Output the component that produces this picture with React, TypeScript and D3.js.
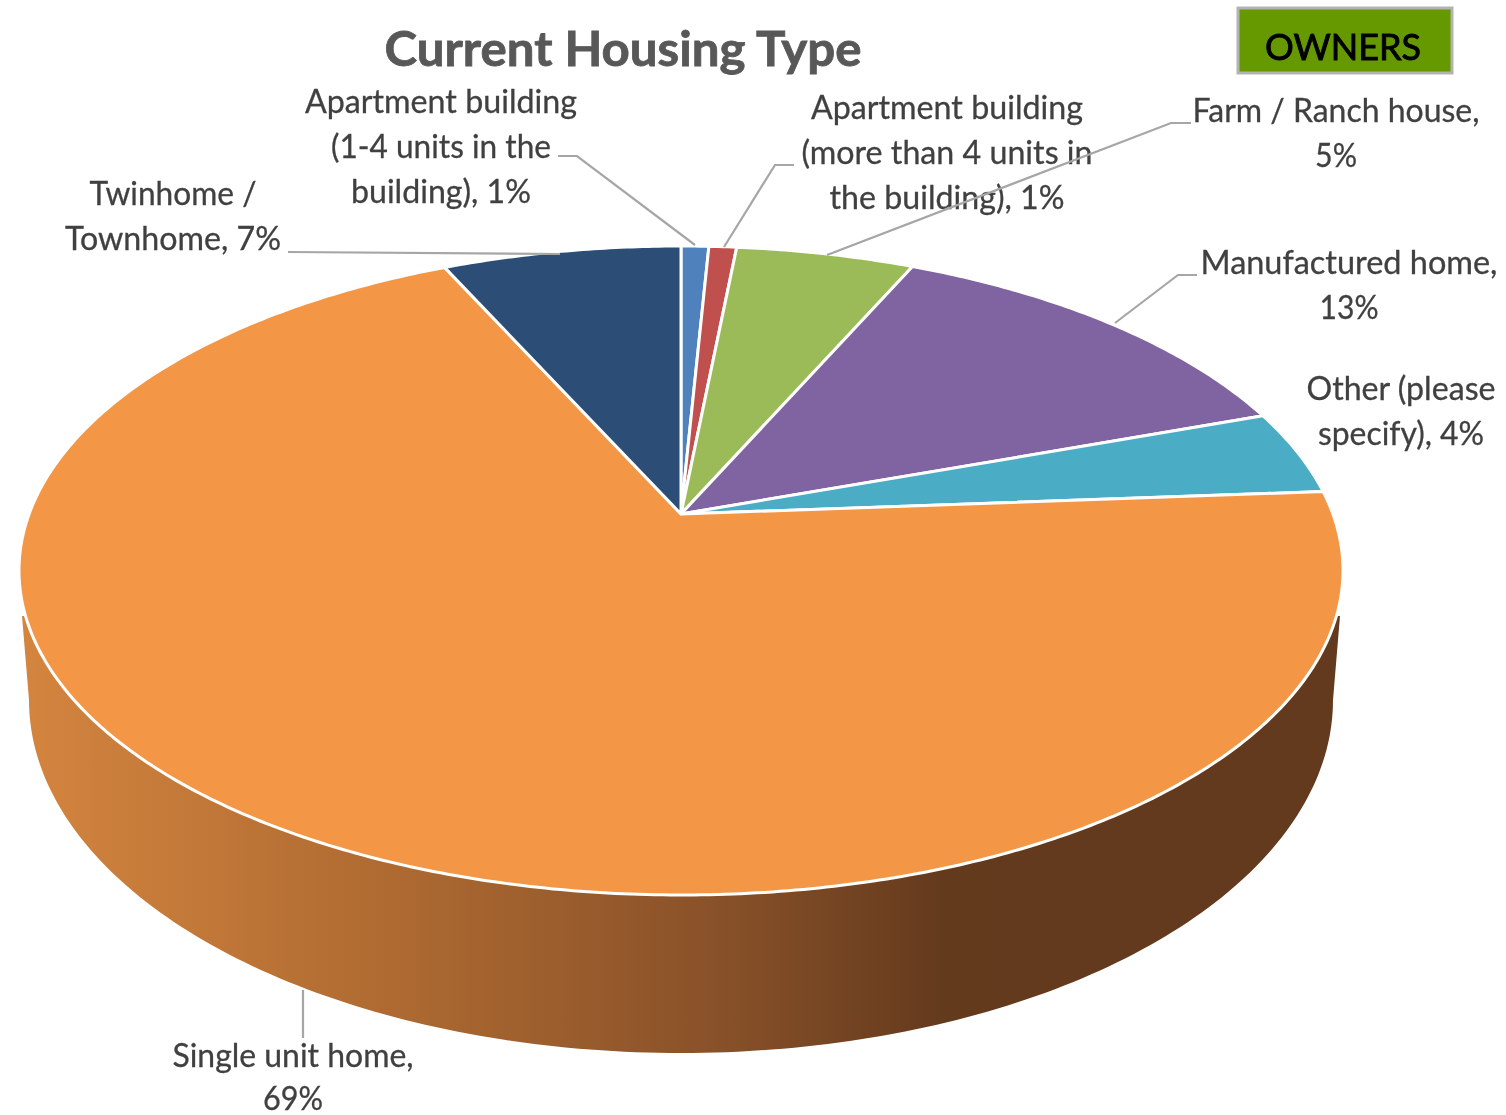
import React from "react";
import * as d3 from "d3";

const categories = [
  "Apartment building (1-4 units in the building)",
  "Apartment building (more than 4 units in the building)",
  "Farm / Ranch house",
  "Manufactured home",
  "Other (please specify)",
  "Single unit home",
  "Twinhome / Townhome",
];
// shares as measured from the slice edges, the printed labels round them
const shares = [0.8, 0.8, 5.15, 12.9, 4.2, 69.25, 6.9];
const sliceColors = ["#4F81BD", "#C0504D", "#9BBB59", "#8064A2", "#4BACC6", "#F39645", "#2C4D75"];
const labelLines = [
  ["Apartment building", "(1-4 units in the", "building), 1%"],
  ["Apartment building", "(more than 4 units in", "the building), 1%"],
  ["Farm / Ranch house,", "5%"],
  ["Manufactured home,", "13%"],
  ["Other (please", "specify), 4%"],
  ["Single unit home,", "69%"],
  ["Twinhome /", "Townhome, 7%"],
];

// label placement, same order as categories: centre x, first baseline, line gap, line widths
const labelLayout = [
  { x: 441, y: 113, gap: 45, widths: [272, 220, 180] },
  { x: 947, y: 119, gap: 45, widths: [272, 291, 235] },
  { x: 1336, y: 122, gap: 45, widths: [287, 42] },
  { x: 1349, y: 274, gap: 45, widths: [297, 59] },
  { x: 1401, y: 400, gap: 45, widths: [189, 166] },
  { x: 293, y: 1067, gap: 43, widths: [241, 60] },
  { x: 173, y: 205, gap: 45, widths: [167, 216] },
];

const leaders = [
  [[558, 156], [577, 156], [695, 245]],
  [[794, 165], [775, 165], [724, 247]],
  [[1191, 123], [1171, 123], [827, 255]],
  [[1197, 275], [1178, 275], [1115, 323]],
  [[303, 990], [303, 1038]],
  [[288, 252], [560, 254]],
];

const width = 1506;
const height = 1115;

// the top face is a circle seen in perspective: rim top, rim bottom, and where the centre lands
const cx = 681;
const apexY = 514;
const rimTop = 246;
const rimBottom = 895;
const rimRx = 662;
const persp = (rimBottom + rimTop - 2 * apexY) / (rimBottom - rimTop);
const slope = rimTop * (1 + persp) - apexY;
const radiusX = rimRx * Math.sqrt(1 - persp * persp);

const project = (theta: number): [number, number] => {
  const u = Math.sin(theta);
  const v = Math.cos(theta);
  const w = 1 + persp * v;
  return [cx + (radiusX * u) / w, (slope * v + apexY) / w];
};

const pieAngles = d3.pie<number>().sort(null).value((d) => d)(shares);
const line = d3.line();

const slicePath = (start: number, end: number) => {
  const steps = Math.max(2, Math.ceil((end - start) / 0.01));
  const rim = d3.range(steps + 1).map((i) => project(start + ((end - start) * i) / steps));
  return line([[cx, apexY], ...rim]) + "Z";
};

// bottom edge of the wall
const wallRx = 652;
const wallCy = 700;
const wallRy = 353;
const wallPoints = d3.range(0, 181).map((deg): [number, number] => {
  const a = (deg * Math.PI) / 180;
  return [cx - wallRx * Math.cos(a), wallCy + wallRy * Math.sin(a)];
});
const wallPath = line([[22, 616], ...wallPoints, [1340, 616]]) + "Z";

const labelFont = "Lato, 'Open Sans', sans-serif";

export default function App() {
  return (
    <svg
      width={width}
      height={height}
      viewBox={`0 0 ${width} ${height}`}
      style={{ position: "absolute", left: 0, top: 0, display: "block", background: "#fff" }}
    >
      <defs>
        <linearGradient id="wallFill" gradientUnits="userSpaceOnUse" x1={20} x2={1340} y1={0} y2={0}>
          <stop offset="0" stopColor="#D4853F" />
          <stop offset="0.28" stopColor="#AE6A31" />
          <stop offset="0.52" stopColor="#8A5229" />
          <stop offset="0.7" stopColor="#643A1D" />
          <stop offset="1" stopColor="#633A1D" />
        </linearGradient>
        <filter id="soft" x="-5%" y="-20%" width="110%" height="140%">
          <feGaussianBlur stdDeviation="0.6" />
        </filter>
      </defs>

      <path d={wallPath} fill="url(#wallFill)" />
      <g>
        {pieAngles.map((d, i) => (
          <path
            key={categories[i]}
            d={slicePath(d.startAngle, d.endAngle)}
            fill={sliceColors[i]}
            stroke="#fff"
            strokeWidth={3}
            strokeLinejoin="round"
          />
        ))}
      </g>

      <g filter="url(#soft)">
        <text
          x={623}
          y={66}
          textAnchor="middle"
          fontFamily={labelFont}
          fontWeight={700}
          fontSize={48}
          fill="#595959"
          stroke="#595959"
          strokeWidth={0.8}
          textLength={477}
          lengthAdjust="spacingAndGlyphs"
        >
          Current Housing Type
        </text>
        {labelLines.map((lines, i) =>
          lines.map((t, j) => (
            <text
              key={`${i}-${j}`}
              x={labelLayout[i].x}
              y={labelLayout[i].y + j * labelLayout[i].gap}
              textAnchor="middle"
              fontFamily={labelFont}
              fontSize={33}
              fill="#404040"
              stroke="#404040"
              strokeWidth={0.3}
              textLength={labelLayout[i].widths[j]}
              lengthAdjust="spacingAndGlyphs"
            >
              {t}
            </text>
          )),
        )}
      </g>

      {leaders.map((pts, i) => (
        <path key={i} d={line(pts as [number, number][]) ?? ""} fill="none" stroke="#A6A6A6" strokeWidth={2.2} />
      ))}

      <rect x={1238} y={8} width={214} height={65} fill="#669900" stroke="#B3B3B3" strokeWidth={3} />
      <text
        x={1343}
        y={60}
        textAnchor="middle"
        fontFamily={labelFont}
        fontSize={37}
        fill="#000"
        stroke="#000"
        strokeWidth={0.9}
        filter="url(#soft)"
        textLength={156}
        lengthAdjust="spacingAndGlyphs"
      >
        OWNERS
      </text>
    </svg>
  );
}
